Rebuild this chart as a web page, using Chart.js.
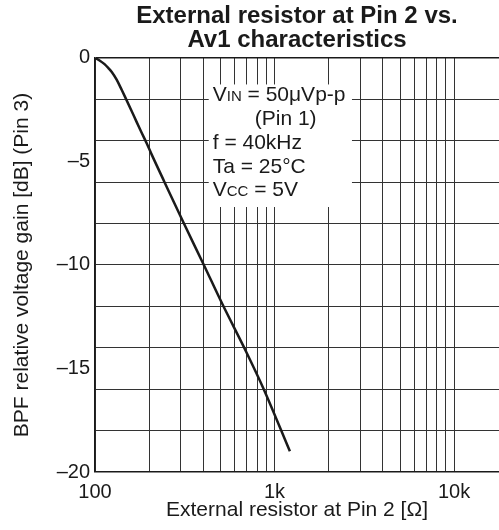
<!DOCTYPE html>
<html>
<head>
<meta charset="utf-8">
<script src="https://cdn.jsdelivr.net/npm/chart.js@4"></script>
<style>
  html, body { margin: 0; padding: 0; background: #fff; }
  #wrap { width: 499px; height: 530px; position: relative; }
</style>
</head>
<body>
<div id="wrap"><canvas id="gain-chart"></canvas></div>
<script>
const resistance = [100, 106, 113, 119, 124, 132, 141, 147, 165, 180, 194, 207, 244, 311, 404, 513, 696, 866, 1218];
const gain = [0, -0.12, -0.3, -0.5, -0.68, -1.05, -1.55, -1.88, -2.82, -3.53, -4.12, -4.67, -6.0, -7.95, -10.0, -11.9, -14.2, -15.95, -19.0];
const xTicks = [100, 200, 300, 400, 500, 600, 700, 800, 900, 1000, 2000, 3000, 4000, 5000, 6000, 7000, 8000, 9000, 10000];
const xTickLabels = { 100: "100", 1000: "1k", 10000: "10k" };
const yTicks = [-20, -18, -16, -15, -14, -12, -10, -8, -6, -5, -4, -2, 0];
const conditions = ["V|IN| = 50μVp-p", "   (Pin 1)", "f = 40kHz", "Ta = 25°C", "V|CC| = 5V"];

const FONT = '"Liberation Sans", Arial, sans-serif';
Chart.defaults.font.family = FONT;
Chart.defaults.color = "#1a1a1a";

// white box with the measurement conditions, drawn over the grid
const conditionsBox = {
  id: "conditionsBox",
  beforeDatasetsDraw(chart) {
    const { ctx, scales } = chart;
    const left = scales.x.getPixelForValue(430);
    const right = scales.x.getPixelForValue(2700);
    const top = scales.y.getPixelForValue(-1.28);
    const bottom = scales.y.getPixelForValue(-7.2);
    ctx.save();
    ctx.fillStyle = "#fff";
    ctx.fillRect(left, top, right - left, bottom - top);
    ctx.fillStyle = "#1a1a1a";
    ctx.textBaseline = "alphabetic";
    conditions.forEach((line, i) => {
      const y = top + 17 + i * 23.7;
      let x = left + 4;
      if (line.startsWith("   ")) { x = left + 46; line = line.trim(); }
      line.split("|").forEach((part, j) => {
        ctx.font = (j === 1 ? "15px " : "21px ") + FONT;
        ctx.fillText(part, x, y);
        x += ctx.measureText(part).width;
      });
    });
    ctx.restore();
  }
};

const ctx = document.getElementById("gain-chart").getContext("2d");

new Chart(ctx, {
  type: "line",
  data: {
    datasets: [
      {
        data: resistance.map((r, i) => ({ x: r, y: gain[i] })),
        borderColor: "#1a1a1a",
        borderWidth: 2.5,
        pointRadius: 0,
        cubicInterpolationMode: "monotone",
        fill: false,
      },
    ],
  },
  options: {
    responsive: true,
    maintainAspectRatio: false,
    animation: false,
    layout: { padding: 0 },
    plugins: {
      legend: { display: false },
      tooltip: { enabled: false },
      title: {
        display: true,
        fullSize: false,
        text: ["External resistor at Pin 2 vs.", "Av1 characteristics"],
        font: { size: 24, weight: "bold", lineHeight: 0.97 },
        color: "#1a1a1a",
        padding: { top: 5, bottom: 6.4 },
      },
    },
    scales: {
      x: {
        type: "logarithmic",
        min: 100,
        max: 17800,
        afterBuildTicks: (scale) => { scale.ticks = xTicks.map((v) => ({ value: v })); },
        afterFit: (scale) => { scale.height = 58; scale.paddingLeft = 0; scale.paddingRight = 0; },
        grid: { color: "#333", lineWidth: 1, drawTicks: false },
        border: { display: true, color: "#1a1a1a", width: 1.5 },
        ticks: {
          autoSkip: false,
          maxRotation: 0,
          padding: 8,
          font: { size: 20 },
          callback: (v) => xTickLabels[v] || "",
        },
        title: {
          display: true,
          text: "External resistor at Pin 2 [Ω]",
          font: { size: 21 },
          padding: { top: 0, bottom: 7 },
        },
      },
      y: {
        min: -20,
        max: 0,
        afterBuildTicks: (scale) => { scale.ticks = yTicks.map((v) => ({ value: v })); },
        afterFit: (scale) => { scale.width = 95; scale.paddingTop = 0; scale.paddingBottom = 0; },
        grid: {
          color: (c) => (c.tick && c.tick.value % 2 !== 0 ? "rgba(0,0,0,0)" : c.tick && c.tick.value === 0 ? "#1a1a1a" : "#333"),
          lineWidth: (c) => (c.tick && c.tick.value === 0 ? 1.5 : 1),
          drawTicks: false,
        },
        border: { display: true, color: "#1a1a1a", width: 1.5 },
        ticks: {
          autoSkip: false,
          padding: 5,
          font: { size: 20 },
          callback: (v) => (v % 5 === 0 ? String(v).replace("-", "\u2013") : ""),
        },
        title: {
          display: true,
          text: "BPF relative voltage gain [dB] (Pin 3)",
          font: { size: 21 },
          padding: { top: 9.5, bottom: 0 },
        },
      },
    },
  },
  plugins: [conditionsBox],
});
</script>
</body>
</html>
